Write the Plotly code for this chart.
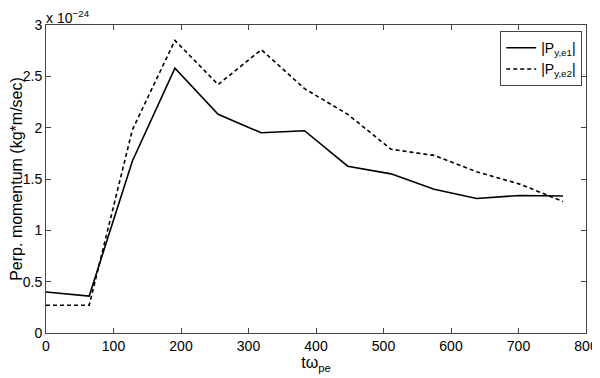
import plotly.graph_objects as go

# time in units of 1/omega_pe
t = [0, 64, 128, 191, 255, 319, 383, 447, 511, 575, 638, 702, 766]
# momentum in units of 1e-24 kg*m/sec
p_e1 = [0.40, 0.36, 1.675, 2.58, 2.13, 1.95, 1.97, 1.625, 1.55, 1.40, 1.31, 1.34, 1.335]
p_e2 = [0.27, 0.27, 1.98, 2.85, 2.42, 2.76, 2.38, 2.13, 1.79, 1.73, 1.57, 1.45, 1.28]

xticks = [0, 100, 200, 300, 400, 500, 600, 700, 800]
yticks = [0, 0.5, 1, 1.5, 2, 2.5, 3]

fig = go.Figure()
fig.add_trace(go.Scatter(x=t, y=p_e1, mode="lines", name="|P<sub>y,e1</sub>|",
                         line=dict(color="black", width=1.6)))
fig.add_trace(go.Scatter(x=t, y=p_e2, mode="lines", name="|P<sub>y,e2</sub>|",
                         line=dict(color="black", width=1.6, dash="4px,3px")))

axis_style = dict(showline=True, linecolor="#444", linewidth=1, mirror="ticks",
                  ticks="inside", ticklen=5, tickcolor="#444", showgrid=False,
                  zeroline=False, automargin=False, tickfont=dict(size=14, color="black"))

fig.update_xaxes(range=[0, 800], tickvals=xticks, **axis_style,
                 title=dict(text="tω<sub>pe</sub>", font=dict(size=16, color="black"), standoff=4))
fig.update_yaxes(range=[0, 3], tickvals=yticks, **axis_style,
                 title=dict(text="Perp. momentum (kg*m/sec)", font=dict(size=16, color="black"), standoff=6))

fig.add_annotation(x=0, y=1, xref="paper", yref="paper", xanchor="left", yanchor="bottom",
                   text="x 10<sup>−24</sup>", showarrow=False,
                   font=dict(size=14, color="black"), xshift=-2, yshift=-3)

# the page body adds an 8px offset, so margins are shifted to compensate
fig.update_layout(
    width=600, height=378,
    margin=dict(l=38, r=22, t=17, b=53),
    paper_bgcolor="white", plot_bgcolor="white",
    font=dict(family="Liberation Sans, Arial, sans-serif", color="black"),
    legend=dict(x=0.993, y=0.98, xanchor="right", yanchor="top",
                bordercolor="#444", borderwidth=1, bgcolor="white",
                font=dict(size=14), tracegroupgap=0, itemwidth=30),
)

fig.write_html("out.html")
